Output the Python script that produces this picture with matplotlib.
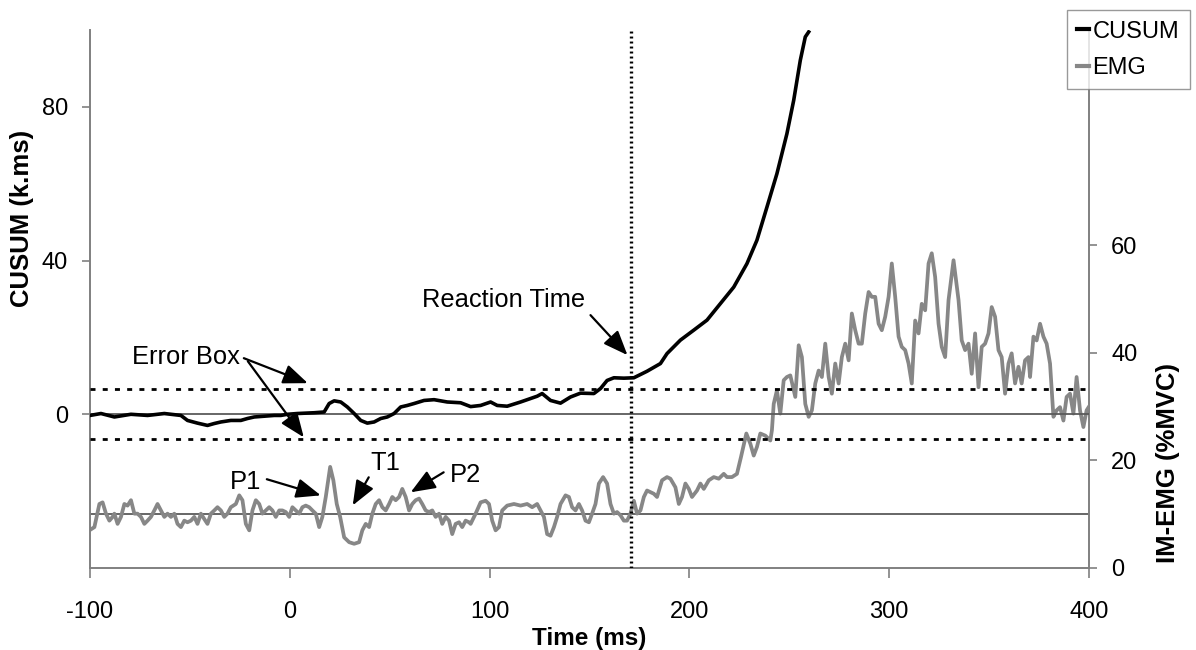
import matplotlib
matplotlib.use('Agg')
import matplotlib.pyplot as plt
from matplotlib.lines import Line2D
from matplotlib.patches import ArrowStyle

plt.rcParams['font.family'] = ['Liberation Sans', 'DejaVu Sans']
plt.rcParams['lines.scale_dashes'] = False
plt.rcParams['axes.unicode_minus'] = False

# ---------------- data ----------------
cusum_time = [-100, -94.5, -87.8, -79.5, -71.2, -62.8, -54.5, -51.2, -46.2, -41.2,
              -37.8, -34.5, -29.5, -24.5, -21.2, -17.8, -12.8, -7.8, -4.5, -1.2,
              3.8, 12.2, 17.2, 19.7, 22.2, 25.5, 28.8, 32.2, 35.5, 38.8,
              42.2, 45.5, 48.8, 52.2, 55.5, 58.8, 62.2, 67.2, 72.2, 78.8,
              85.5, 90.5, 95.5, 100.5, 103.8, 108.8, 115.5, 123.8, 126.3, 130.5,
              135.5, 140.5, 145.5, 152.2, 155.5, 158.8, 162.2, 167.2, 172.2, 178.8,
              185.5, 188.8, 195.5, 202.2, 208.8, 215.5, 222.2, 228.8, 233.8, 238.8,
              243.8, 248.8, 252.2, 255.5, 258, 259.7]
cusum_value = [-0.3, 0.2, -0.7, 0.0, -0.3, 0.2, -0.3, -1.6, -2.3, -2.9,
               -2.4, -2.0, -1.6, -1.6, -1.1, -0.7, -0.5, -0.3, -0.3, 0.0,
               0.2, 0.4, 0.6, 2.8, 3.5, 3.2, 1.9, 0.2, -1.6, -2.3,
               -2.0, -1.1, -0.7, 0.2, 1.9, 2.3, 2.8, 3.6, 3.8, 3.2,
               3.0, 2.0, 2.3, 3.2, 2.3, 2.1, 3.2, 4.7, 5.4, 3.6,
               2.9, 4.5, 5.5, 5.4, 6.7, 8.8, 9.5, 9.4, 9.5, 11.2,
               13.2, 15.8, 19.3, 21.9, 24.5, 28.8, 33.1, 39.2, 45.3, 53.9,
               62.6, 73.0, 81.7, 92.1, 98.2, 99.5]

emg_time = [-100.3, -97.8, -95.3, -93.7, -92.0, -90.3, -88.7, -87.8, -86.2, -84.5,
            -82.8, -81.2, -79.5, -77.8, -76.2, -74.5, -72.8, -71.2, -69.5, -67.8,
            -66.2, -64.5, -62.8, -61.2, -59.5, -57.8, -56.2, -54.5, -52.8, -51.2,
            -49.5, -47.8, -46.2, -44.5, -42.8, -41.2, -39.5, -37.8, -36.2, -34.5,
            -32.8, -31.2, -29.5, -27.0, -25.3, -23.7, -22.0, -20.3, -18.7, -17.0,
            -15.3, -13.7, -12.0, -10.3, -8.7, -7.0, -5.3, -3.7, -2.0, -0.3,
            1.3, 3.0, 4.7, 6.3, 8.0, 9.7, 11.3, 13.0, 14.7, 16.3,
            18.0, 20.2, 21.8, 23.5, 25.2, 27.2, 29.7, 32.2, 34.7, 36.3,
            38.0, 39.7, 41.3, 43.0, 44.7, 46.3, 48.0, 49.7, 51.3, 53.0,
            54.7, 56.3, 58.0, 59.7, 61.3, 63.0, 64.7, 66.3, 68.0, 69.7,
            71.3, 73.0, 74.7, 76.3, 78.0, 79.7, 81.3, 83.0, 84.7, 86.3,
            88.0, 89.7,
            90.5, 93.0, 95.5, 98.0, 99.7, 101.3, 103.0, 104.7, 106.3, 108.8,
            112.2, 115.5, 118.8, 121.3, 123.8, 125.5, 127.2, 128.8, 130.5, 132.2,
            133.8, 135.5, 138.0, 139.7, 141.3, 143.0, 144.7, 146.3, 148.0, 149.7,
            151.3, 153.0, 154.7, 156.8, 158.8, 160.5, 162.2, 163.8, 165.5, 167.2,
            168.8, 170.5, 172.2, 173.8, 175.5, 177.2, 178.8, 180.5, 182.2, 183.8,
            186.3, 188.8, 190.5, 193.0, 194.7, 196.3, 198.0, 199.7, 201.3, 203.8,
            205.5, 207.2, 209.7, 212.2, 214.7, 217.2, 218.8, 221.3, 223.8, 225.8,
            228.5, 230.5, 232.2, 233.8, 235.5, 238.0, 240.5,
            241.3, 242.2, 243.8, 245.5, 247.2, 248.8, 250.5, 253.0, 254.7, 256.3,
            258.0, 259.7, 261.3, 263.0, 264.7, 266.3, 268.0, 269.7, 271.3, 273.0,
            274.7, 276.3, 278.0, 279.7, 281.3, 283.0, 284.7, 286.3, 288.0, 289.7,
            291.3, 293.0, 294.7, 296.3, 298.0, 299.7, 301.3, 303.0, 304.7, 306.3,
            308.0, 309.7, 311.3, 313.0, 314.7, 316.3, 318.0, 319.7, 321.3, 323.0,
            324.7, 326.3, 328.0, 329.7, 332.2, 334.7, 336.3, 338.0, 339.7, 341.3,
            343.0, 344.7, 346.3, 348.0, 349.7, 351.3, 353.0, 354.7, 356.3, 358.0,
            359.7, 361.3, 363.0, 364.7, 366.3, 368.0, 369.7, 370.5, 372.2, 373.8,
            375.5, 377.2, 378.8, 380.5, 382.2, 383.8, 385.5, 387.2, 388.8, 390.5,
            392.2, 393.8, 395.5, 397.2, 398.8, 400.0]
emg_value = [7.0, 7.6, 11.9, 12.2, 10.1, 8.8, 9.5, 10.1, 8.2, 9.5,
             11.9, 11.6, 12.6, 10.1, 10.1, 9.5, 8.2, 8.8, 9.5, 10.7,
             11.9, 10.7, 9.5, 10.1, 9.5, 10.1, 8.2, 7.6, 8.8, 8.5,
             8.8, 9.5, 8.2, 10.1, 9.1, 8.2, 10.1, 10.7, 11.3, 10.7,
             9.5, 10.1, 11.3, 11.9, 13.5, 12.6, 8.2, 7.0, 10.7, 12.6,
             11.9, 10.1, 10.7, 11.3, 10.7, 9.5, 10.7, 10.7, 10.4, 9.5,
             11.3, 10.7, 10.1, 11.3, 11.6, 11.3, 10.7, 10.1, 7.6, 9.5,
             13.2, 18.8, 16.3, 11.9, 9.5, 5.7, 4.8, 4.5, 4.8, 7.0,
             8.2, 7.6, 10.1, 11.9, 12.6, 11.3, 10.7, 11.9, 13.2, 12.6,
             13.2, 14.7, 13.2, 10.7, 11.9, 12.6, 12.9, 11.9, 10.7, 10.4,
             10.7, 9.5, 10.1, 8.2, 9.5, 8.8, 6.3, 8.2, 8.5, 7.6,
             8.8, 8.5,
             8.2, 10.1, 12.2, 12.5, 11.9, 8.8, 7.0, 7.6, 10.7, 11.6,
             11.9, 11.6, 11.9, 11.3, 11.9, 10.7, 9.5, 6.3, 6.0, 7.6,
             9.5, 11.9, 13.5, 13.2, 11.3, 10.7, 11.9, 10.7, 8.8, 8.5,
             10.1, 11.9, 15.7, 16.9, 15.7, 11.9, 10.1, 10.4, 9.8, 8.8,
             8.8, 10.1, 12.5, 10.1, 10.7, 13.2, 14.4, 14.1, 13.8, 13.2,
             16.3, 16.9, 16.6, 15.0, 11.9, 13.2, 15.7, 14.7, 13.2, 14.4,
             15.7, 14.7, 16.3, 16.9, 16.6, 17.5, 16.9, 16.9, 17.5, 20.6,
             25.0, 23.1, 20.9, 22.5, 25.0, 24.6, 23.7,
             25.6, 30.5, 33.0, 28.7, 34.9, 35.5, 35.8, 31.8, 41.4, 39.2,
             30.5, 28.1, 29.3, 34.3, 36.7, 35.5, 41.7, 35.5, 32.4, 38.0,
             34.3, 39.2, 41.7, 38.6, 47.3, 44.2, 41.7, 41.7, 47.3, 51.3,
             50.4, 50.4, 45.4, 44.2, 46.7, 50.4, 56.6, 50.4, 43.0, 41.1,
             40.5, 38.0, 34.3, 46.0, 43.6, 49.1, 47.9, 56.6, 58.5, 54.1,
             45.4, 41.1, 39.2, 49.8, 57.2, 49.8, 42.3, 40.5, 41.7, 36.1,
             43.6, 33.6, 41.1, 41.7, 43.6, 48.5, 46.7, 40.5, 39.2, 32.4,
             38.0, 39.9, 34.3, 37.4, 34.3, 38.6, 39.2, 35.5, 43.0, 42.3,
             45.4, 43.0, 41.7, 38.0, 28.1, 29.3, 29.9, 27.4, 31.8, 32.4,
             28.7, 35.5, 29.3, 26.2, 29.3, 30.0]

reaction_time = 171
error_band = 6.5
emg_baseline = 10
x_ticks = [-100, 0, 100, 200, 300, 400]
cusum_ticks = [0, 40, 80]
emg_ticks = [0, 20, 40, 60]

# ---------------- figure ----------------
W, H = 1196, 650
fig = plt.figure(figsize=(W / 100, H / 100), dpi=100)
ax = fig.add_axes([90 / W, 1 - 568 / H, 999 / W, 538 / H])
ax2 = ax.twinx()
ax.set_zorder(ax2.get_zorder() + 1)
ax.patch.set_visible(False)

spine_c = '#808080'
ref_c = '#5a5a5a'
emg_c = '#878787'

# EMG on the right axis
ax2.plot(emg_time, emg_value, color=emg_c, lw=2.7, solid_joinstyle='round', zorder=3)
ax2.axhline(emg_baseline, color=ref_c, lw=1.3, zorder=2)
ax2.set_ylim(0, 100)
ax2.set_yticks(emg_ticks)

# CUSUM on the left axis
ax.plot(cusum_time, cusum_value, color='black', lw=2.6, solid_joinstyle='round', zorder=4)
ax.axhline(0, color=ref_c, lw=1.3, zorder=2)
for yv in (error_band, -error_band):
    ax.axhline(yv, color='black', lw=2.0, dashes=(3.6, 5.2), zorder=3)
ax.axvline(reaction_time, color='black', lw=2.4, dashes=(1.4, 2.2), zorder=5)
ax.set_xlim(-100, 400)
ax.set_ylim(-40, 100)
ax.set_xticks(x_ticks)
ax.set_yticks(cusum_ticks)

# spines and ticks
for a in (ax, ax2):
    a.spines['top'].set_visible(False)
ax.spines['right'].set_visible(False)
ax2.spines['left'].set_visible(False)
ax2.spines['bottom'].set_visible(False)
for s in ('left', 'bottom'):
    ax.spines[s].set_color(spine_c)
    ax.spines[s].set_linewidth(1.4)
ax2.spines['right'].set_color(spine_c)
ax2.spines['right'].set_linewidth(1.4)

ax.tick_params(axis='y', direction='out', length=6, width=1.2, color=spine_c,
               pad=10, labelsize=17)
ax.tick_params(axis='x', direction='out', length=7, width=1.2, color=spine_c,
               pad=17, labelsize=17)
ax2.tick_params(axis='y', direction='out', length=6, width=1.2, color=spine_c,
                pad=10, labelsize=17)

ax.set_xlabel('Time (ms)', fontsize=17.5, fontweight='bold', labelpad=3)
ax.set_ylabel('CUSUM (k.ms)', fontsize=18.5, fontweight='bold')
ax.yaxis.set_label_coords(-0.056, 0.65)
ax2.set_ylabel('IM-EMG (%MVC)', fontsize=18.5, fontweight='bold')
ax2.yaxis.set_label_coords(1.067, 0.195)

# annotations
astyle = ArrowStyle('-|>', head_length=1.0, head_width=0.4)
aprops = dict(arrowstyle=astyle, mutation_scale=15, color='black', lw=1.6,
              shrinkA=0, shrinkB=0)
tfont = dict(fontsize=18.4, ha='center', va='center', zorder=6)

ax.text(-52, 14.8, 'Error Box', **tfont)
ax.annotate('', xy=(9, 8.1), xytext=(-23, 14.6), arrowprops=aprops)
ax.annotate('', xy=(7, -6.0), xytext=(-21, 13.8), arrowprops=aprops)

ax.text(107, 29.7, 'Reaction Time', **tfont)
ax.annotate('', xy=(169, 15.4), xytext=(150.5, 25.8), arrowprops=aprops)

ax.text(-22, -17.7, 'P1', **tfont)
ax.annotate('', xy=(15.5, -21.1), xytext=(-11.5, -16.9), arrowprops=aprops)

ax.text(48, -12.8, 'T1', **tfont)
ax.annotate('', xy=(31.5, -23.7), xytext=(39.5, -16.4), arrowprops=aprops)

ax.text(88, -15.9, 'P2', **tfont)
ax.annotate('', xy=(60.5, -20.3), xytext=(77, -15.1), arrowprops=aprops)

# legend
handles = [Line2D([], [], color='black', lw=3), Line2D([], [], color=emg_c, lw=3)]
leg = fig.legend(handles, ['CUSUM', 'EMG'], loc='upper right',
                 bbox_to_anchor=(1190 / W, 1 - 10 / H), fontsize=17,
                 frameon=True, fancybox=False, edgecolor=spine_c,
                 handlelength=0.5, handletextpad=0.15, borderpad=0.45,
                 labelspacing=0.6, borderaxespad=0)
leg.get_frame().set_linewidth(1.0)

fig.savefig('out.png', dpi=100)
